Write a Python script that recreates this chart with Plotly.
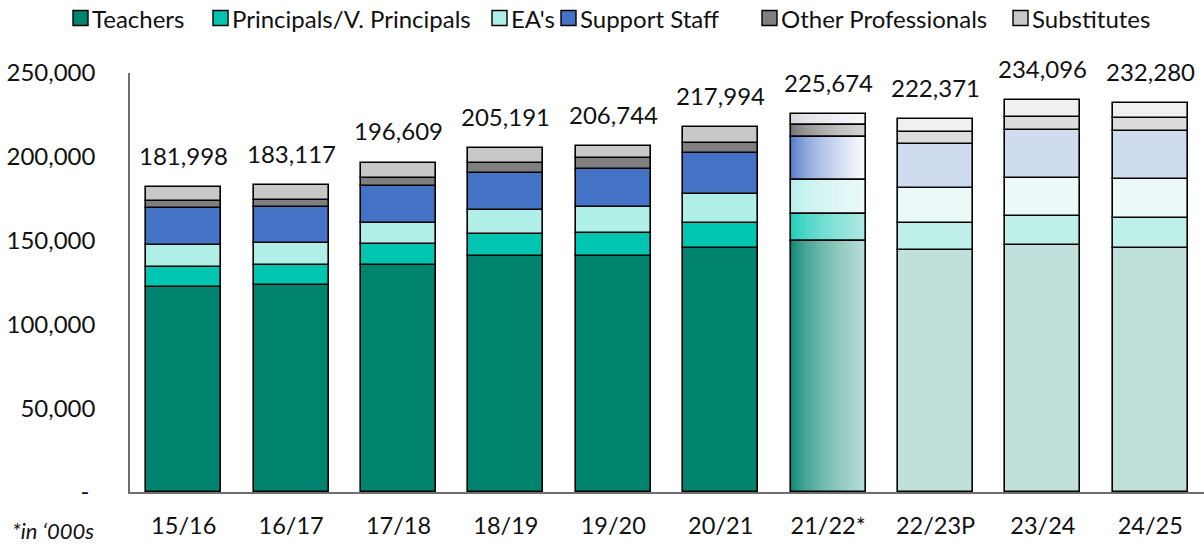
import plotly.graph_objects as go

# ---------------- data ----------------
categories = ["15/16", "16/17", "17/18", "18/19", "19/20", "20/21", "21/22*", "22/23P", "23/24", "24/25"]
totals = [181998, 183117, 196609, 205191, 206744, 217994, 225674, 222371, 234096, 232280]

teachers = [122600, 123800, 135600, 140700, 140700, 145500, 149700, 144100, 147300, 145300]
principals = [11500, 11900, 12100, 13000, 14000, 14800, 15900, 16600, 17300, 18000]
eas = [13000, 12600, 13000, 14500, 15300, 17700, 20600, 20700, 22600, 23700]
support = [22500, 21900, 21900, 22400, 23000, 24500, 25700, 26500, 28700, 28500]
other = [3800, 4000, 5000, 5500, 6000, 6000, 7100, 7000, 7600, 7400]
substitutes = [8600, 8900, 9000, 9100, 7700, 9500, 6700, 7500, 10600, 9400]

series_names = ["Teachers", "Principals/V. Principals", "EA's", "Support Staff", "Other Professionals", "Substitutes"]
series_values = [teachers, principals, eas, support, other, substitutes]

# kinds: actual / transition (gradient) / projected
kinds = ["a", "a", "a", "a", "a", "a", "g", "p", "p", "p"]

full_colors = ["#00836F", "#00C5B1", "#B0EEE8", "#4472C4", "#7F7F7F", "#C8C8C8"]
faded_colors = ["#BFE0DB", "#BEEFE9", "#EBF9F9", "#CFDCEF", "#DCDCDC", "#F0F0F0"]
grad_start = ["#00836F", "#10CDB8", "#B4EEEA", "#4A74C8", "#6E6E6E", "#D4D4DC"]
grad_end = ["#B8DDD8", "#AEE9E2", "#EBF9F9", "#F8FAFE", "#D6D6D6", "#F8F8FB"]

y_ticks = [0, 50000, 100000, 150000, 200000, 250000]
y_tick_text = ["- ", "50,000", "100,000", "150,000", "200,000", "250,000"]

# legend layout (pixel positions of each legend entry's swatch, left edge)
legend_swatch_px = [73, 213, 492, 561, 762, 1013]

FONT = "Lato, 'Open Sans', sans-serif"
BAR_W = 0.70
N_SLICES = 40

W, H = 1204, 546
M_L, M_R, M_T, M_B = 130, 0, 73, 54
PW, PH = W - M_L - M_R, H - M_T - M_B


def px_to_paper_x(px):
    return (px - M_L) / PW


def px_to_paper_y(py):
    return (H - M_B - py) / PH


def hex2rgb(h):
    h = h.lstrip("#")
    return tuple(int(h[i:i + 2], 16) for i in (0, 2, 4))


def mix(c0, c1, t):
    a, b = hex2rgb(c0), hex2rgb(c1)
    return "rgb(%d,%d,%d)" % tuple(round(a[i] + (b[i] - a[i]) * t) for i in range(3))


x_pos = list(range(len(categories)))

# cumulative bases
bases = []
run = [0] * len(categories)
for vals in series_values:
    bases.append(list(run))
    run = [run[i] + vals[i] for i in range(len(categories))]

fig = go.Figure()

# gradient slices for the transition year
g_idx = [i for i, k in enumerate(kinds) if k == "g"]
for s, vals in enumerate(series_values):
    for gi in g_idx:
        xs, ys, bs, cs = [], [], [], []
        sw = BAR_W / N_SLICES
        for k in range(N_SLICES):
            t = (k / (N_SLICES - 1)) ** 0.6
            xs.append(x_pos[gi] - BAR_W / 2 + (k + 0.5) * sw)
            ys.append(vals[gi])
            bs.append(bases[s][gi])
            cs.append(mix(grad_start[s], grad_end[s], t))
        fig.add_trace(go.Bar(
            x=xs, y=ys, base=bs, width=sw * 1.15,
            marker=dict(color=cs, line=dict(width=0)),
            showlegend=False, hoverinfo="skip",
        ))

# main bars with outlines
for s, (name, vals) in enumerate(zip(series_names, series_values)):
    colors = []
    for k in kinds:
        if k == "a":
            colors.append(full_colors[s])
        elif k == "p":
            colors.append(faded_colors[s])
        else:
            colors.append("rgba(0,0,0,0)")
    fig.add_trace(go.Bar(
        x=x_pos, y=vals, base=bases[s], width=BAR_W, name=name,
        marker=dict(color=colors, line=dict(color="#000000", width=1.6)),
        showlegend=False,
    ))

# total labels
for i, tot in enumerate(totals):
    fig.add_annotation(
        x=x_pos[i], y=tot, text=f"{tot:,}", showarrow=False,
        yanchor="bottom", yshift=15, font=dict(family=FONT, size=24, color="#111111"),
    )

# manual single-row legend
LEG_CY = 18
SW = 15
for s, name in enumerate(series_names):
    x0 = legend_swatch_px[s]
    fig.add_shape(
        type="rect", xref="paper", yref="paper",
        x0=px_to_paper_x(x0), x1=px_to_paper_x(x0 + SW),
        y0=px_to_paper_y(LEG_CY + SW / 2), y1=px_to_paper_y(LEG_CY - SW / 2),
        fillcolor=full_colors[s], line=dict(color="#000000", width=1.4),
    )
    fig.add_annotation(
        xref="paper", yref="paper", x=px_to_paper_x(x0 + SW + 3), y=px_to_paper_y(LEG_CY),
        xanchor="left", yanchor="middle", text=name, showarrow=False,
        font=dict(family=FONT, size=24, color="#111111"), borderpad=0,
    )

fig.add_annotation(
    xref="paper", yref="paper", x=px_to_paper_x(10), y=px_to_paper_y(530),
    xanchor="left", yanchor="middle",
    text="<i>*in ‘000s</i>", showarrow=False,
    font=dict(family=FONT, size=22, color="#111111"),
)

fig.update_layout(
    width=W, height=H,
    barmode="overlay",
    paper_bgcolor="white", plot_bgcolor="white",
    margin=dict(l=M_L, r=M_R, t=M_T, b=M_B, autoexpand=False),
    font=dict(family=FONT, size=24, color="#111111"),
    bargap=0,
    showlegend=False,
    xaxis=dict(
        range=[-0.5, len(categories) - 0.5],
        tickmode="array", tickvals=x_pos, ticktext=categories,
        showgrid=False, zeroline=False,
        showline=True, linecolor="#6E6E6E", linewidth=1.5,
        ticks="", ticklabelstandoff=12,
        tickfont=dict(family=FONT, size=23.5, color="#111111"),
    ),
    yaxis=dict(
        range=[0, 250000],
        tickmode="array", tickvals=y_ticks, ticktext=y_tick_text,
        showgrid=False, zeroline=False,
        showline=True, linecolor="#6E6E6E", linewidth=1.5,
        ticks="", ticklabelstandoff=28,
        tickfont=dict(family=FONT, size=24, color="#111111"),
    ),
)

fig.write_html(
    "out.html",
    config={"displayModeBar": False},
    post_script="document.body.style.margin='0';document.body.style.padding='0';",
)
